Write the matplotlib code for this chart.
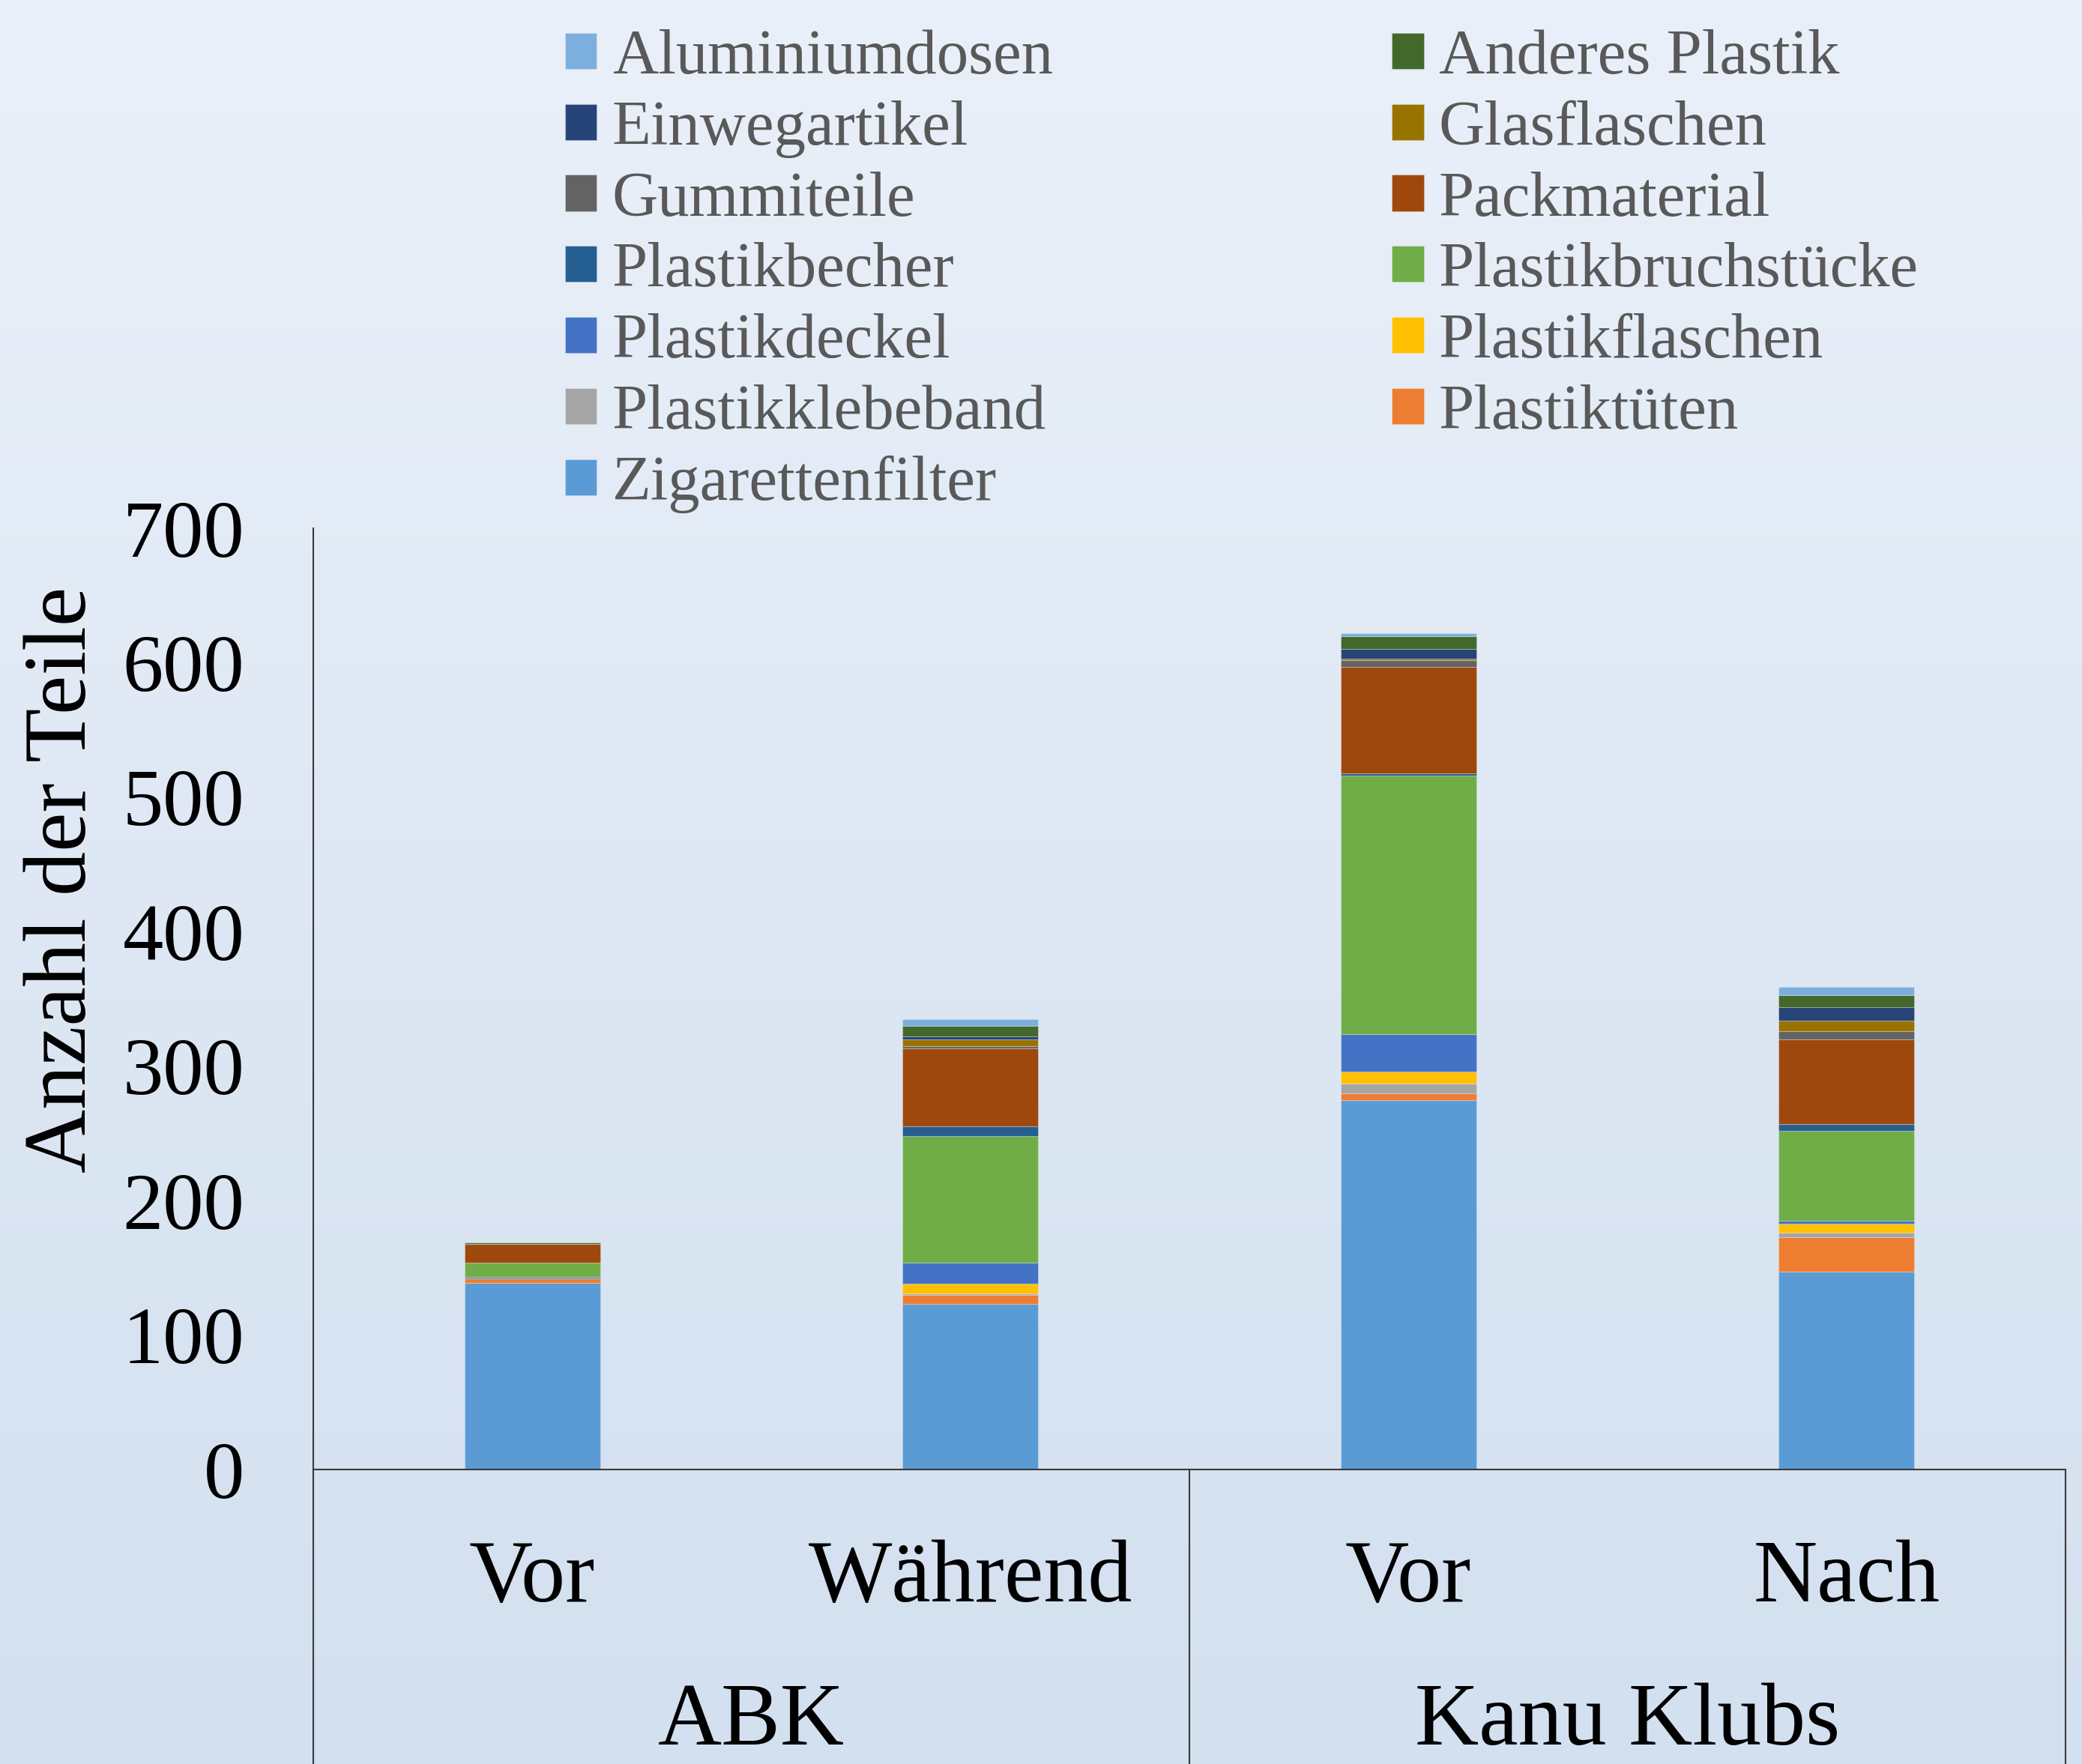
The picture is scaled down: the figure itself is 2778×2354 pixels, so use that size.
import numpy as np
import matplotlib
matplotlib.use("Agg")
import matplotlib.pyplot as plt
from matplotlib.lines import Line2D

plt.rcParams['font.family'] = ['Liberation Serif', 'DejaVu Serif']

# bars, left to right
bar_labels = ["Vor", "Während", "Vor", "Nach"]
group_labels = ["ABK", "Kanu Klubs"]

# stack order from bottom to top
categories = ["Zigarettenfilter", "Plastiktüten", "Plastikklebeband", "Plastikflaschen",
              "Plastikdeckel", "Plastikbruchstücke", "Plastikbecher", "Packmaterial",
              "Gummiteile", "Glasflaschen", "Einwegartikel", "Anderes Plastik",
              "Aluminiumdosen"]

zigarettenfilter = [139, 123, 275, 147]
plastiktueten = [3, 7, 5, 26]
plastikklebeband = [0, 1, 7, 3]
plastikflaschen = [0, 7, 9, 7]
plastikdeckel = [1, 16, 28, 2]
plastikbruchstuecke = [11, 94, 192, 67]
plastikbecher = [0, 7, 2, 5]
packmaterial = [14, 58, 79, 63]
gummiteile = [0, 2, 5, 6]
glasflaschen = [0, 5, 1, 8]
einwegartikel = [0, 2, 7, 10]
anderes_plastik = [1, 8, 10, 9]
aluminiumdosen = [0, 5, 2, 6]

values = [zigarettenfilter, plastiktueten, plastikklebeband, plastikflaschen,
          plastikdeckel, plastikbruchstuecke, plastikbecher, packmaterial,
          gummiteile, glasflaschen, einwegartikel, anderes_plastik, aluminiumdosen]

colors = ["#5B9BD5", "#ED7D31", "#A5A5A5", "#FFC000", "#4472C4", "#70AD47",
          "#255E91", "#9E480E", "#636363", "#997300", "#264478", "#43682B",
          "#7CAFDD"]

fig = plt.figure(figsize=(27.78, 23.54), dpi=100)

# background gradient
bg = fig.add_axes([0, 0, 1, 1], zorder=-10)
top = np.array([234, 240, 249]) / 255
bottom = np.array([211, 224, 239]) / 255
t = np.linspace(0, 1, 256)[:, None]
grad = top[None, :] * (1 - t) + bottom[None, :] * t
bg.imshow(grad[:, None, :], aspect='auto', extent=[0, 1, 0, 1])
bg.axis('off')

ax = fig.add_axes([418 / 2778, 1 - 1961 / 2354, (2756 - 418) / 2778, (1961 - 705) / 2354])
ax.set_facecolor('none')

x = np.arange(len(bar_labels)) + 0.5
bottom_vals = np.zeros(len(bar_labels))
handles = {}
for name, vals, c in zip(categories, values, colors):
    b = ax.bar(x, vals, width=0.31, bottom=bottom_vals, color=c,
               edgecolor=(1, 1, 1, 0.25), linewidth=0.8, label=name)
    handles[name] = b
    bottom_vals += np.array(vals)

ax.set_xlim(0, 4)
ax.set_ylim(0, 700)
ax.set_yticks(range(0, 701, 100))
ax.tick_params(axis='y', length=0, labelsize=78, pad=66)
ax.set_xticks([])
for s in ['top', 'right']:
    ax.spines[s].set_visible(False)
ax.spines['left'].set_color('#3a3a3a')
ax.spines['bottom'].set_color('#3a3a3a')
ax.spines['left'].set_linewidth(1.5)
ax.spines['bottom'].set_linewidth(1.5)

# two-level category axis
for xi, lab in zip(x, bar_labels):
    ax.annotate(lab, xy=(xi, 0), xycoords=('data', 'axes fraction'),
                xytext=(0, -127), textcoords='offset points',
                ha='center', va='baseline', fontsize=85)
for xi, lab in zip([1, 3], group_labels):
    ax.annotate(lab, xy=(xi, 0), xycoords=('data', 'axes fraction'),
                xytext=(0, -264), textcoords='offset points',
                ha='center', va='baseline', fontsize=85)
for xs in [0, 2, 4]:
    ax.add_line(Line2D([xs, xs], [0, -0.4], transform=ax.get_xaxis_transform(),
                       color='#3a3a3a', linewidth=1.5, clip_on=False))

fig.text(85 / 2778, 1 - 1174 / 2354, "Anzahl der Teile", rotation=90,
         ha='center', va='center', fontsize=85)

# legend, filled row by row in alphabetical order
alpha_names = sorted(categories)
order = alpha_names[0::2] + alpha_names[1::2]
leg = fig.legend([handles[n] for n in order], order, ncol=2,
                 loc='upper left', bbox_to_anchor=(754 / 2778, 1 - 39 / 2354),
                 frameon=False, fontsize=61, handlelength=0.5, handleheight=0.5,
                 handletextpad=0.24, labelspacing=0.21, columnspacing=5.34,
                 borderpad=0, borderaxespad=0)
for txt in leg.get_texts():
    txt.set_color('#595959')

fig.savefig("out.png", dpi=100)
